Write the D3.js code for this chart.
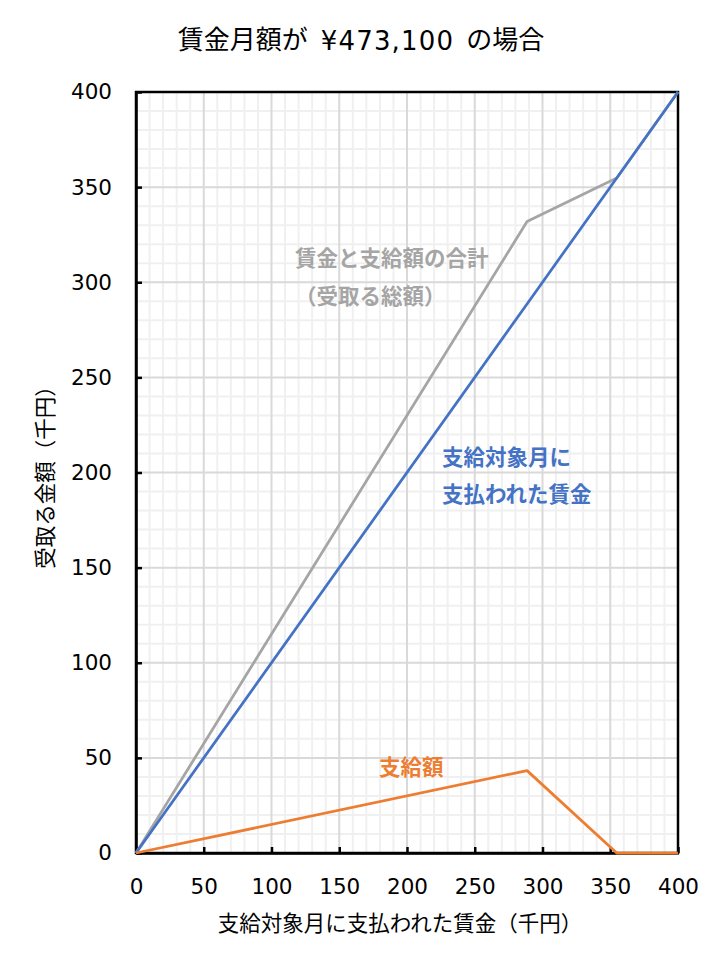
<!DOCTYPE html>
<html><head><meta charset="utf-8">
<script src="https://cdn.jsdelivr.net/npm/d3@7/dist/d3.min.js"></script>
<style>body{margin:0;background:#fff}svg{display:block}text{font-family:"Noto Sans CJK JP","Noto Sans",sans-serif}</style>
</head><body><svg id="c" width="722" height="969"></svg>
<script>
const wage = [0, 288.6, 354.8, 400];
const benefit = [0, 43.3, 0, 0];
const total = wage.map((w,i)=>w+benefit[i]);
const xTicks = [0,50,100,150,200,250,300,350,400];
const yTicks = [0,50,100,150,200,250,300,350,400];
const titleParts = ["賃金月額が", "¥473,100", "の場合"];
const xTitle = "支給対象月に支払われた賃金（千円）";
const yTitle = "受取る金額（千円）";

const svg = d3.select("#c");
const L=136,R=678,T=92,B=853;
const x = d3.scaleLinear().domain([0,400]).range([L,R]);
const y = d3.scaleLinear().domain([0,400]).range([B,T]);

// minor grid
const minor = d3.range(0,401,10).filter(v=>v%50!==0);
svg.append("g").selectAll("line").data(minor).join("line")
  .attr("x1",d=>x(d)).attr("x2",d=>x(d)).attr("y1",T).attr("y2",B)
  .attr("stroke","#f0f0f0").attr("stroke-width",2);
svg.append("g").selectAll("line").data(minor).join("line")
  .attr("y1",d=>y(d)).attr("y2",d=>y(d)).attr("x1",L).attr("x2",R)
  .attr("stroke","#f0f0f0").attr("stroke-width",2);
// major grid
svg.append("g").selectAll("line").data(xTicks).join("line")
  .attr("x1",d=>x(d)).attr("x2",d=>x(d)).attr("y1",T).attr("y2",B)
  .attr("stroke","#d9d9d9").attr("stroke-width",2);
svg.append("g").selectAll("line").data(yTicks).join("line")
  .attr("y1",d=>y(d)).attr("y2",d=>y(d)).attr("x1",L).attr("x2",R)
  .attr("stroke","#d9d9d9").attr("stroke-width",2);

// frame
svg.append("rect").attr("x",L).attr("y",T).attr("width",R-L).attr("height",B-T)
  .attr("fill","none").attr("stroke","#000").attr("stroke-width",2.5);

// axes
const xa = svg.append("g").attr("transform",`translate(0,${B})`)
  .call(d3.axisBottom(x).tickValues(xTicks).tickSizeInner(-6).tickSizeOuter(0).tickPadding(24));
const ya = svg.append("g").attr("transform",`translate(${L},0)`)
  .call(d3.axisLeft(y).tickValues(yTicks).tickSizeInner(-6).tickSizeOuter(0).tickPadding(24));
[xa,ya].forEach(a=>{
  a.select(".domain").attr("stroke","#000").attr("stroke-width",2.5);
  a.selectAll(".tick line").attr("stroke","#000").attr("stroke-width",2.5);
  a.selectAll(".tick text").attr("font-size",21.5).attr("fill","#000")
   .style("font-family","'DejaVu Sans',sans-serif");
});
xa.selectAll(".tick text").attr("dy","0.35em").attr("y",33);

// lines
const line = d3.line().x(d=>x(d[0])).y(d=>y(d[1]));
const series = [
  {v: wage.map((w,i)=>[w,total[i]]), c:"#a5a5a5"},
  {v: wage.map(w=>[w,w]), c:"#4472c4"},
  {v: wage.map((w,i)=>[w,benefit[i]]), c:"#ed7d31"}
];
svg.append("g").selectAll("path").data(series).join("path")
  .attr("d",d=>line(d.v)).attr("fill","none").attr("stroke",d=>d.c)
  .attr("stroke-width",2.75).attr("stroke-linejoin","round");

// labels
const lab = (t,px,py,c)=>svg.append("text").attr("x",px).attr("y",py).text(t)
  .attr("fill",c).attr("font-size",21.5).attr("font-weight","bold").attr("dominant-baseline","middle");
lab("賃金と支給額の合計",295,260,"#a5a5a5");
lab("（受取る総額）",295,298,"#a5a5a5");
lab("支給対象月に",442,459,"#4472c4");
lab("支払われた賃金",442,496,"#4472c4");
lab("支給額",379,769,"#ed7d31");

const tt = svg.append("text").attr("x",361).attr("y",42).attr("text-anchor","middle")
  .attr("dominant-baseline","middle").attr("font-size",26);
tt.selectAll("tspan").data(titleParts).join("tspan")
  .attr("dx",(d,i)=>i===1?13:(i===2?12:0)).text(d=>d)
  .attr("letter-spacing",(d,i)=>i===1?"1.2px":null)
  .style("font-family",(d,i)=>i===1?"'DejaVu Sans',sans-serif":null);
svg.append("text").attr("x",400).attr("y",925).attr("text-anchor","middle")
  .attr("dominant-baseline","middle").attr("font-size",21.5).text(xTitle);
svg.append("text").attr("transform","translate(47,472) rotate(-90)").attr("text-anchor","middle")
  .attr("dominant-baseline","middle").attr("font-size",21.5).text(yTitle);
</script></body></html>
